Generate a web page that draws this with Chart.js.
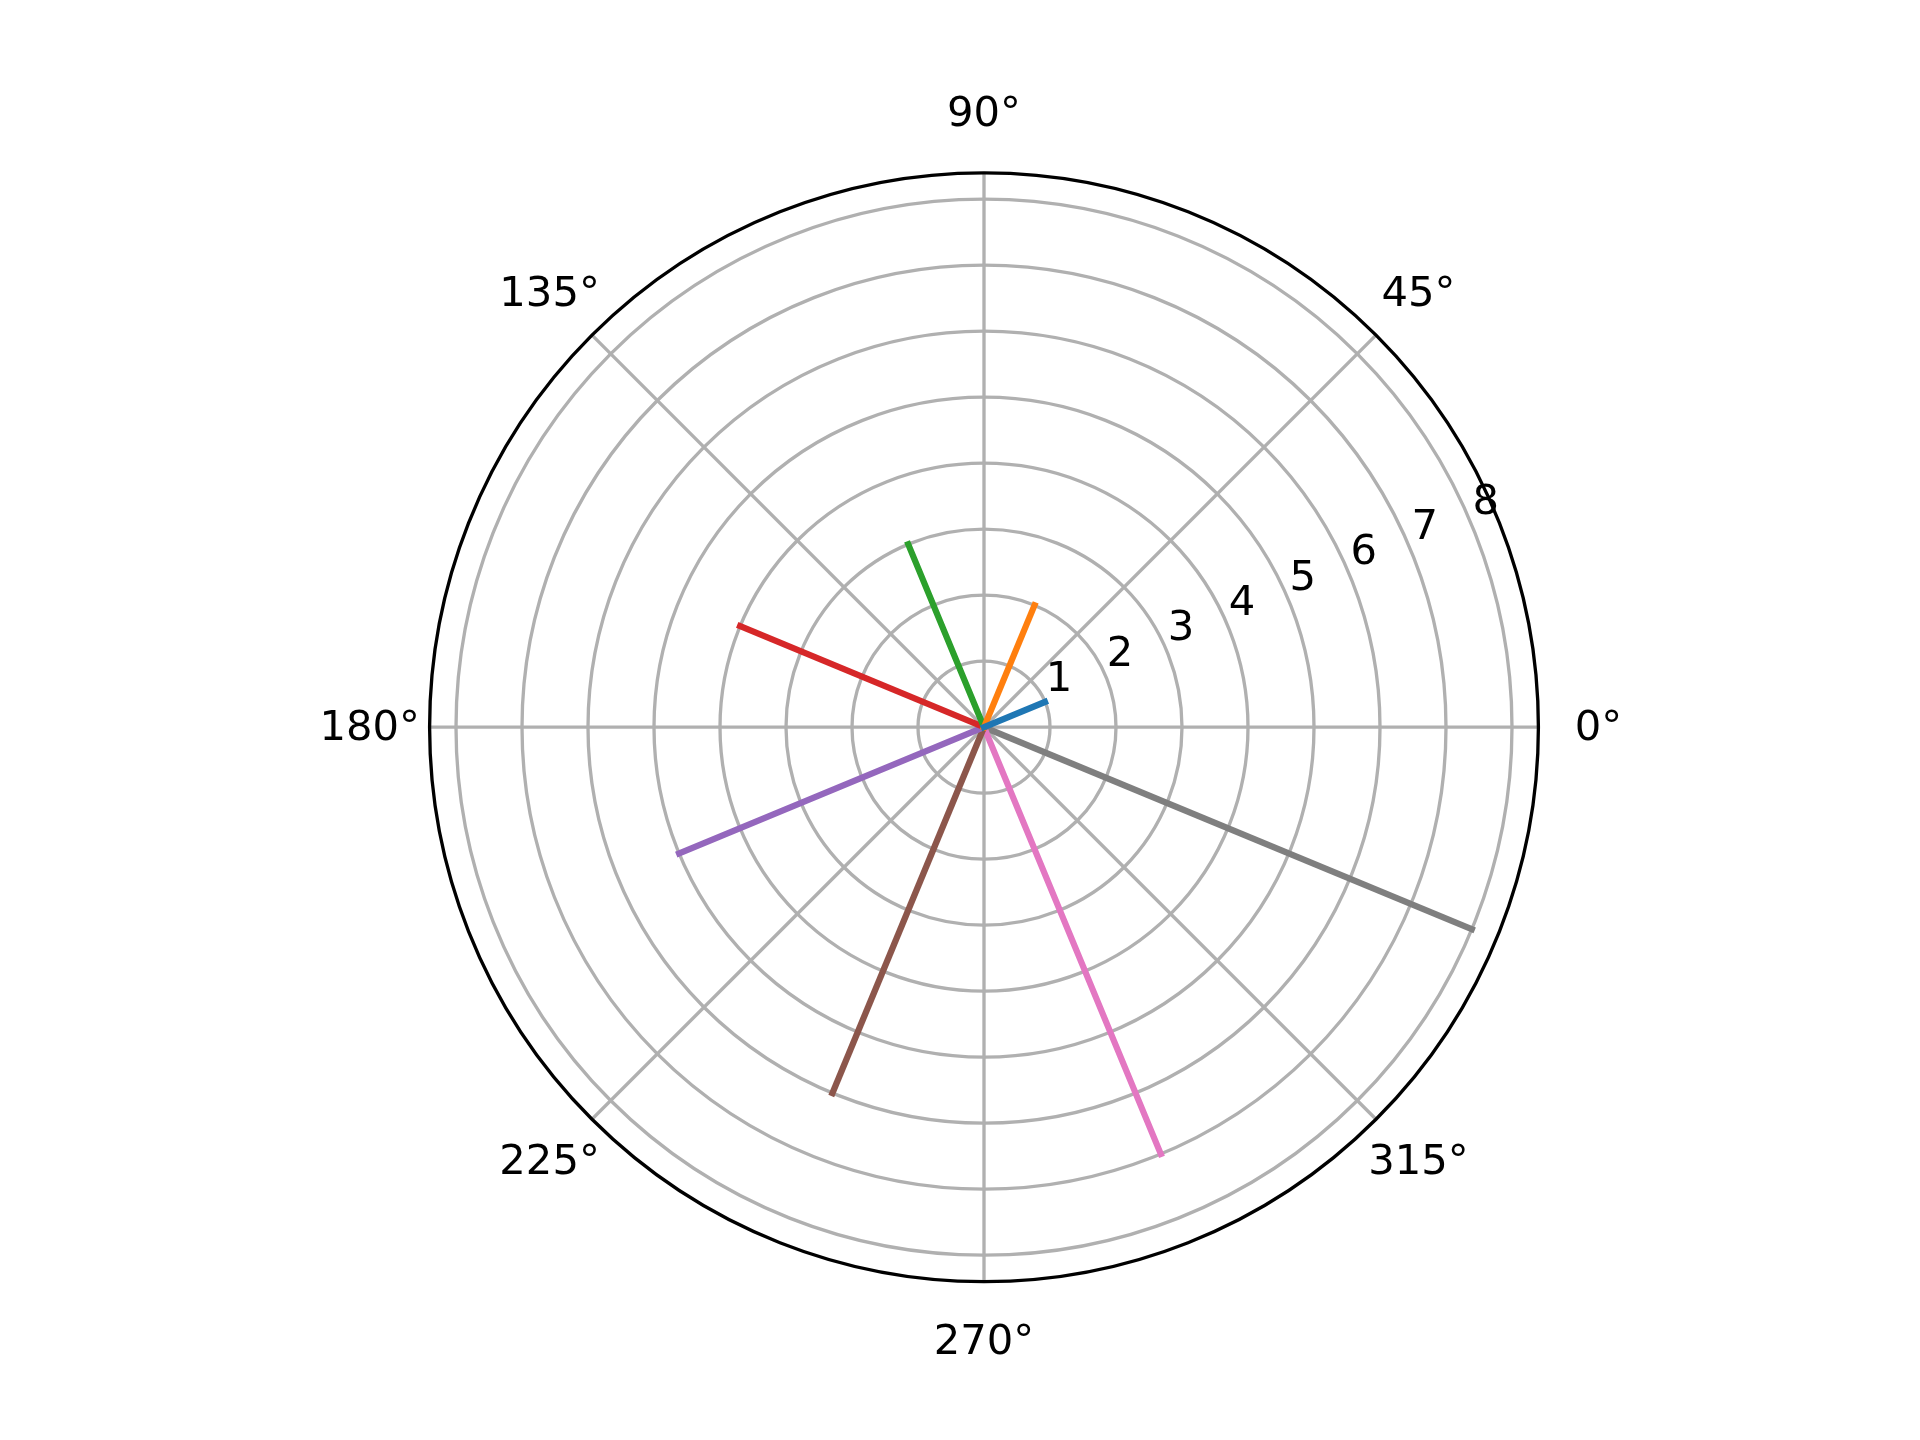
<!DOCTYPE html>
<html>
<head>
<meta charset="utf-8">
<script src="https://cdn.jsdelivr.net/npm/chart.js@4/dist/chart.umd.min.js"></script>
<style>
  html, body { margin: 0; padding: 0; background: #ffffff; }
  #c { display: block; }
</style>
</head>
<body>
<canvas id="c" width="1920" height="1440"></canvas>
<script>
// Data: one line per series, from the origin to (radius, angle)
const seriesAngles = [22.5, 67.5, 112.5, 157.5, 202.5, 247.5, 292.5, 337.5]; // degrees
const seriesRadii  = [1, 2, 3, 4, 5, 6, 7, 8];
const seriesColors = ['#1f77b4', '#ff7f0e', '#2ca02c', '#d62728', '#9467bd', '#8c564b', '#e377c2', '#7f7f7f'];
const radialTicks  = [1, 2, 3, 4, 5, 6, 7, 8];
const angleTicks   = [0, 45, 90, 135, 180, 225, 270, 315];
const rMax = 8.4;
const radialLabelAngle = 22.5;

const FONT = '41.7px "DejaVu Sans"';

const datasets = seriesAngles.map((a, i) => {
  const t = a * Math.PI / 180;
  return {
    data: [{ x: 0, y: 0 }, { x: seriesRadii[i] * Math.cos(t), y: seriesRadii[i] * Math.sin(t) }],
    showLine: true,
    borderColor: seriesColors[i],
    backgroundColor: seriesColors[i],
    borderWidth: 6.25,
    borderCapStyle: 'square',
    pointRadius: 0,
    pointHoverRadius: 0,
    fill: false
  };
});

function polarPx(chart, r, deg) {
  const xs = chart.scales.x, ys = chart.scales.y;
  const t = deg * Math.PI / 180;
  return [xs.getPixelForValue(r * Math.cos(t)), ys.getPixelForValue(r * Math.sin(t))];
}

const polarGrid = {
  id: 'polarGrid',
  beforeDatasetsDraw(chart) {
    const ctx = chart.ctx;
    const xs = chart.scales.x, ys = chart.scales.y;
    const cx = xs.getPixelForValue(0), cy = ys.getPixelForValue(0);
    ctx.save();
    ctx.strokeStyle = '#b0b0b0';
    ctx.lineWidth = 3.33;
    // rings
    radialTicks.forEach(r => {
      const rp = xs.getPixelForValue(r) - cx;
      ctx.beginPath();
      ctx.arc(cx, cy, rp, 0, Math.PI * 2);
      ctx.stroke();
    });
    // spokes
    angleTicks.forEach(a => {
      const [px, py] = polarPx(chart, rMax, a);
      ctx.beginPath();
      ctx.moveTo(cx, cy);
      ctx.lineTo(px, py);
      ctx.stroke();
    });
    ctx.restore();
  },
  afterDatasetsDraw(chart) {
    const ctx = chart.ctx;
    const xs = chart.scales.x, ys = chart.scales.y;
    const cx = xs.getPixelForValue(0), cy = ys.getPixelForValue(0);
    const R = xs.getPixelForValue(rMax) - cx;
    ctx.save();
    // outer spine
    ctx.strokeStyle = '#000000';
    ctx.lineWidth = 3.33;
    ctx.beginPath();
    ctx.arc(cx, cy, R, 0, Math.PI * 2);
    ctx.stroke();
    // angle labels
    ctx.fillStyle = '#000000';
    ctx.font = FONT;
    ctx.textAlign = 'center';
    ctx.textBaseline = 'middle';
    angleTicks.forEach(a => {
      const t = a * Math.PI / 180;
      const rr = R + 60;
      ctx.fillText(a + '°', cx + rr * Math.cos(t), cy - rr * Math.sin(t) + 2);
    });
    // radial labels
    radialTicks.forEach(r => {
      const [px, py] = polarPx(chart, r, radialLabelAngle);
      ctx.fillText(String(r), px + 14, py - 22);
    });
    ctx.restore();
  }
};

new Chart(document.getElementById('c'), {
  type: 'scatter',
  data: { datasets },
  options: {
    responsive: false,
    devicePixelRatio: 1,
    animation: false,
    layout: { padding: { left: 429.6, right: 381.6, top: 172.8, bottom: 158.4 } },
    plugins: { legend: { display: false }, tooltip: { enabled: false } },
    scales: {
      x: { type: 'linear', min: -rMax, max: rMax, display: false },
      y: { type: 'linear', min: -rMax, max: rMax, display: false }
    }
  },
  plugins: [polarGrid]
});
</script>
</body>
</html>
